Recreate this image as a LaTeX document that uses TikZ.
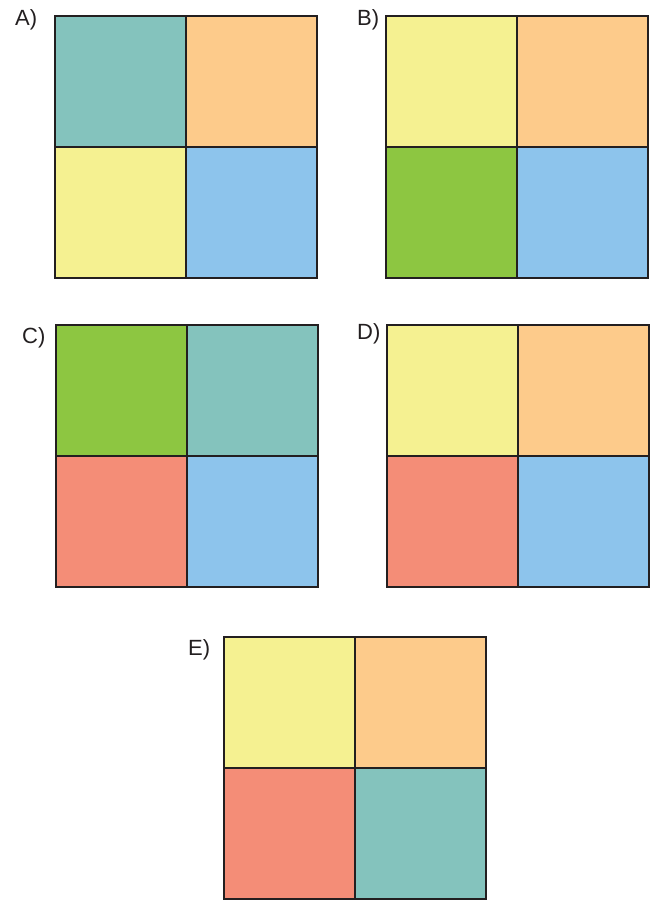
\documentclass[tikz,border=0pt]{standalone}
\usepackage{fontspec}
\setmainfont{Liberation Sans}
\definecolor{cteal}{HTML}{84C3BD}
\definecolor{corange}{HTML}{FDCB8B}
\definecolor{cyellow}{HTML}{F5F191}
\definecolor{cblue}{HTML}{8DC4EC}
\definecolor{cgreen}{HTML}{8DC641}
\definecolor{csalmon}{HTML}{F48D77}
\definecolor{cline}{HTML}{231F20}
\tikzset{
  cell/.style={draw=cline, line width=1.8pt},
  lbl/.style={anchor=base west, inner sep=0pt, font=\fontsize{22}{22}\selectfont, text=cline}
}
% #1,#2 top-left corner; #3..#6 TL, TR, BL, BR colours; #7 label; #8,#9 label base
\newcommand{\colorgrid}[9]{%
  \fill[#3] (#1,#2) rectangle ++(131,131);
  \fill[#4] (#1+131,#2) rectangle ++(131,131);
  \fill[#5] (#1,#2+131) rectangle ++(131,131);
  \fill[#6] (#1+131,#2+131) rectangle ++(131,131);
  \draw[cell] (#1,#2) rectangle ++(262,262);
  \draw[cell] (#1+131,#2) -- ++(0,262);
  \draw[cell] (#1,#2+131) -- ++(262,0);
  \node[lbl] at (#8,#9) {#7};
}
\begin{document}
\begin{tikzpicture}[x=1pt,y=-1pt]
\useasboundingbox (0,0) rectangle (663,900);
\colorgrid{55}{16}{cteal}{corange}{cyellow}{cblue}{A)}{15}{25.5}
\colorgrid{386}{16}{cyellow}{corange}{cgreen}{cblue}{B)}{357}{25}
\colorgrid{56}{325}{cgreen}{cteal}{csalmon}{cblue}{C)}{22}{343}
\colorgrid{387}{325}{cyellow}{corange}{csalmon}{cblue}{D)}{357}{339}
\colorgrid{224}{637}{cyellow}{corange}{csalmon}{cteal}{E)}{188}{655}
\end{tikzpicture}
\end{document}
